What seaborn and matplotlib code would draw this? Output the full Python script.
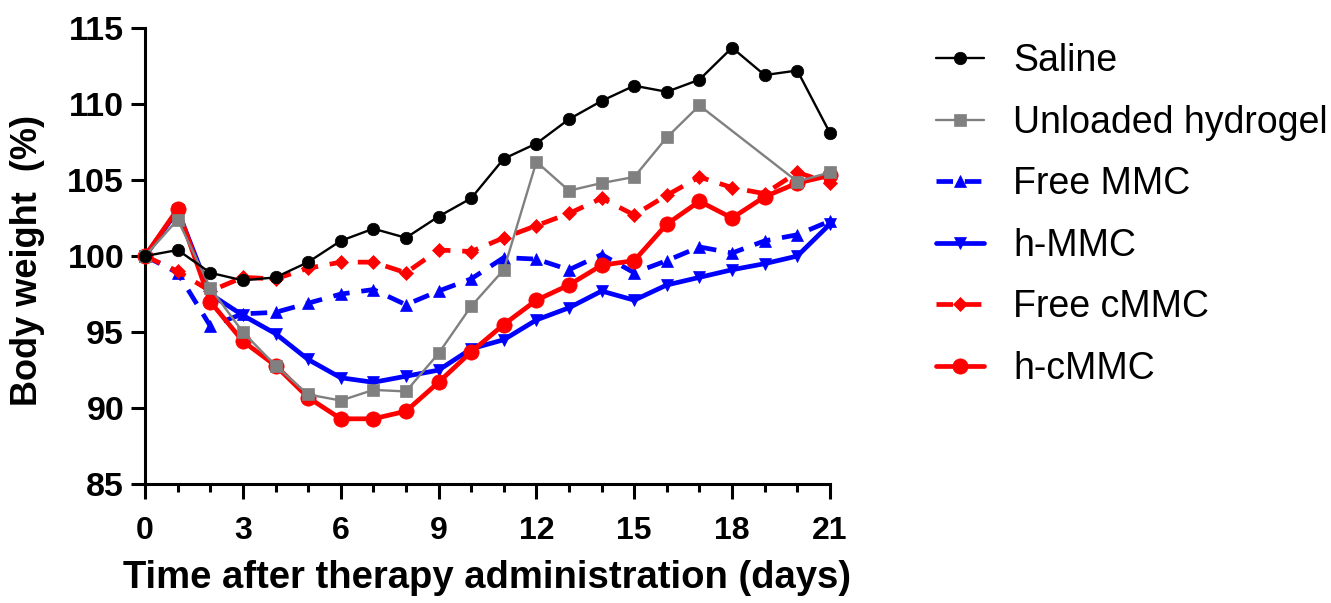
import numpy as np
import pandas as pd
import matplotlib
matplotlib.use("Agg")
import matplotlib.pyplot as plt
import seaborn as sns
from matplotlib.ticker import MultipleLocator

days = list(range(22))

saline = [100, 100.4, 98.9, 98.4, 98.6, 99.6, 101.0, 101.8, 101.2, 102.6, 103.8,
          106.4, 107.4, 109.0, 110.2, 111.2, 110.8, 111.6, 113.7, 111.9, 112.2, 108.1]
unloaded = [100, 102.4, 97.9, 95.0, 92.8, 90.9, 90.5, 91.2, 91.1, 93.6, 96.7,
            99.1, 106.2, 104.3, 104.8, 105.2, 107.8, 109.9, np.nan, np.nan, 104.9, 105.5]
free_mmc = [100, 98.9, 95.4, 96.2, 96.3, 96.9, 97.5, 97.8, 96.8, 97.7, 98.5,
            99.9, 99.8, 99.1, 100.1, 98.9, 99.7, 100.6, 100.2, 101.0, 101.4, 102.3]
h_mmc = [100, 103.0, 97.5, 96.1, 94.9, 93.2, 92.0, 91.7, 92.1, 92.5, 93.9,
         94.5, 95.8, 96.6, 97.7, 97.1, 98.1, 98.6, 99.1, 99.5, 100.0, 102.1]
free_cmmc = [100, 99.0, 97.7, 98.6, 98.5, 99.2, 99.6, 99.6, 98.9, 100.4, 100.3,
             101.2, 102.0, 102.8, 103.8, 102.7, 104.0, 105.2, 104.5, 104.1, 105.5, 104.8]
h_cmmc = [100, 103.1, 97.0, 94.4, 92.8, 90.7, 89.3, 89.3, 89.8, 91.7, 93.7,
          95.5, 97.1, 98.1, 99.4, 99.7, 102.1, 103.6, 102.5, 103.9, 104.8, 105.3]

names = ["Saline", "Unloaded hydrogel", "Free MMC", "h-MMC", "Free cMMC", "h-cMMC"]
series = [saline, unloaded, free_mmc, h_mmc, free_cmmc, h_cmmc]

styles = {
    "Saline": dict(color="black", marker="o", ms=9, lw=1.7, ls="-", z=6),
    "Unloaded hydrogel": dict(color="#808080", marker="s", ms=9, lw=1.7, ls="-", z=5),
    "Free MMC": dict(color="#0000ff", marker="^", ms=9, lw=3.4, ls=(0, (3.5, 2.5)), z=2),
    "h-MMC": dict(color="#0000ff", marker="v", ms=9, lw=3.4, ls="-", z=1),
    "Free cMMC": dict(color="#ff0000", marker="D", ms=7, lw=3.4, ls=(0, (3.5, 2.5)), z=3),
    "h-cMMC": dict(color="#ff0000", marker="o", ms=11, lw=3.4, ls="-", z=4),
}

sns.set_style("ticks", rc={"text.color": "black", "axes.labelcolor": "black",
                           "xtick.color": "black", "ytick.color": "black",
                           "axes.edgecolor": "black"})
plt.rcParams['font.family'] = ['Liberation Sans', 'DejaVu Sans']

fig = plt.figure(figsize=(13.31, 6.03), dpi=100)
ax = fig.add_axes([0.109, 0.197, 0.5145, 0.7567])

for name, vals in zip(names, series):
    st = styles[name]
    df = pd.DataFrame({"day": days, "weight": vals}).dropna()
    sns.lineplot(data=df, x="day", y="weight", ax=ax, label=name,
                 color=st["color"], marker=st["marker"], markersize=st["ms"],
                 markeredgecolor=st["color"], markerfacecolor=st["color"],
                 markeredgewidth=0.5, linewidth=st["lw"], linestyle=st["ls"],
                 zorder=st["z"], clip_on=False)

ax.set_xlim(0, 21)
ax.set_ylim(85, 115)
ax.xaxis.set_major_locator(MultipleLocator(3))
ax.xaxis.set_minor_locator(MultipleLocator(1))
ax.yaxis.set_major_locator(MultipleLocator(5))

for side in ["top", "right"]:
    ax.spines[side].set_visible(False)
for side in ["left", "bottom"]:
    ax.spines[side].set_linewidth(2.2)

ax.tick_params(axis="y", which="major", length=10, width=2.2,
               labelsize=24.5, pad=5)
ax.tick_params(axis="x", which="major", length=11, width=2.2,
               labelsize=23, pad=12)
ax.tick_params(axis="x", which="minor", length=6, width=2.2)
for lab in ax.get_xticklabels() + ax.get_yticklabels():
    lab.set_fontweight("bold")

ax.set_xlabel("Time after therapy administration (days)", fontsize=27.5,
              fontweight="bold", labelpad=10)
ax.set_ylabel("Body weight  (%)", fontsize=26, fontweight="bold")
ax.yaxis.set_label_coords(-0.146, 0.49)

leg = ax.legend(loc="upper left", bbox_to_anchor=(0.692, 0.953),
                bbox_transform=fig.transFigure, frameon=False, fontsize=27,
                handlelength=1.28, handletextpad=0.77, labelspacing=0.68,
                borderaxespad=0)

fig.savefig("out.png", dpi=100)
